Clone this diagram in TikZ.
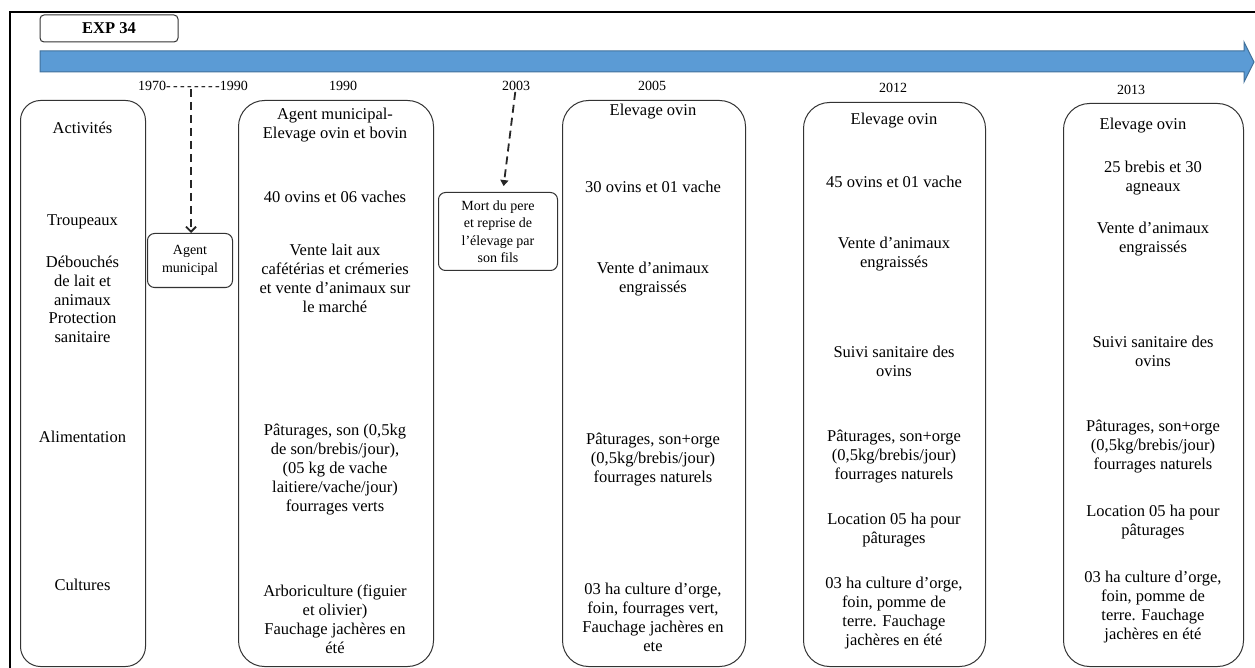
\documentclass[tikz,border=0pt]{standalone}
\usepackage{fontspec}
\setmainfont{Liberation Serif}
\usetikzlibrary{arrows.meta,positioning}
\definecolor{FrBleu}{HTML}{5B9BD5}
\definecolor{FrBord}{HTML}{41719C}
\definecolor{FrTrait}{HTML}{333333}

\begin{document}
\begin{tikzpicture}[x=1pt,y=-1pt,
  periode/.style={draw=FrTrait,line width=1pt,rounded corners=26pt,anchor=north west,inner sep=0pt},
  evt/.style={draw=FrTrait,line width=1pt,rounded corners=7pt,anchor=north west,inner sep=0pt},
  txt/.style={align=center,font=\fontsize{16.5}{19}\selectfont,inner sep=0pt},
  ptxt/.style={align=center,font=\fontsize{14}{17.5}\selectfont,inner sep=0pt},
  annee/.style={font=\fontsize{14}{17}\selectfont,inner sep=1pt},
  pointille/.style={dash pattern=on 8pt off 5pt,line width=1.8pt,black!85}]
  \useasboundingbox (0,0) rectangle (1255,668);
  % cadre et titre
  \draw[line width=1.6pt] (10,668) -- (10,12) -- (1255,12);
  \node[draw=FrTrait,line width=1pt,rounded corners=4pt,minimum width=138pt,minimum height=27pt,
    font=\fontsize{16.5}{18}\selectfont\bfseries] (exp) at (109,28.5) {EXP 34};
  % fleche du temps
  \draw[fill=FrBleu,draw=FrBord,line width=1pt] (40,51) -- (1244,51) -- (1244,42) -- (1254,62)
    -- (1244,82) -- (1244,72) -- (40,72) -- cycle;

  % annees
  \node[annee] (a1970) at (193,86) {1970-\,-\,-\,-\,-\,-\,-\,-1990};
  \node[annee] (a1990) at (343,86) {1990};
  \node[annee] (a2003) at (516,86) {2003};
  \node[annee] (a2005) at (652,86) {2005};
  \node[annee] (a2012) at (893,88) {2012};
  \node[annee] (a2013) at (1131,90) {2013};

  % colonne des activites
  \node[periode,rounded corners=20pt,minimum width=125pt,minimum height=566pt] (act) at (20,100) {};
  \node[txt] (l1) at (82.5,128) {Activités};
  \node[txt] (l2) at (82.5,222) {Troupeaux};
  \node[txt] (l3) at (82.5,281) {Débouchés\\de lait et\\animaux};
  \node[txt] (l4) at (82.5,328) {Protection\\sanitaire};
  \node[txt] (l5) at (82.5,437) {Alimentation};
  \node[txt] (l6) at (82.5,585) {Cultures};

  % evenements
  \node[evt,minimum width=85pt,minimum height=54pt] (agent) at (147,233) {};
  \node[ptxt] (agentt) at (agent.center) {Agent\\municipal};
  \node[evt,minimum width=119pt,minimum height=78pt] (mort) at (438,192) {};
  \node[ptxt] (mortt) at (mort.center) {Mort du pere\\et reprise de\\l'élevage par\\son fils};
  \coordinate (c1970) at (191,89);
  \draw[pointille,-{Straight Barb[length=5pt,width=10pt]}] (c1970) -- (c1970 |- agent.north);
  \draw[pointille,-{Triangle[length=6pt,width=8pt]},shorten >=6pt] (a2003) -- (mort);

  % 1990
  \node[periode,minimum width=195pt,minimum height=566pt] (p1990) at (238,100) {};
  \node[txt] (b1) at (335,125) {Agent municipal-\\Elevage ovin et bovin};
  \node[txt] (b2) at (335,197) {40 ovins et 06 vaches};
  \node[txt] (b3) at (335,278) {Vente lait aux\\cafétérias et crémeries\\et vente d'animaux sur\\le marché};
  \node[txt] (b4) at (335,470) {Pâturages, son (0,5kg\\de son/brebis/jour),\\(05 kg de vache\\laitiere/vache/jour)\\fourrages verts};
  \node[txt] (b5) at (335,619) {Arboriculture (figuier\\et olivier)\\Fauchage jachères en\\été};

  % 2005
  \node[periode,minimum width=183pt,minimum height=566pt] (p2005) at (562,100) {};
  \node[txt] (c1) at (653,112) {Elevage ovin};
  \node[txt] (c2) at (653,187) {30 ovins et 01 vache};
  \node[txt] (c3) at (653,279) {Vente d'animaux\\engraissés};
  \node[txt] (c4) at (653,460) {Pâturages, son+orge\\(0,5kg/brebis/jour)\\fourrages naturels};
  \node[txt] (c5) at (653,617) {03 ha culture d'orge,\\foin, fourrages vert,\\Fauchage jachères en\\ete};

  % 2012
  \node[periode,minimum width=182pt,minimum height=564pt] (p2012) at (803,102) {};
  \node[txt] (d1) at (894,121) {Elevage ovin};
  \node[txt] (d2) at (894,182) {45 ovins et 01 vache};
  \node[txt] (d3) at (894,254) {Vente d'animaux\\engraissés};
  \node[txt] (d4) at (894,361) {Suivi sanitaire des\\ovins};
  \node[txt] (d5) at (894,457) {Pâturages, son+orge\\(0,5kg/brebis/jour)\\fourrages naturels};
  \node[txt] (d6) at (894,530) {Location 05 ha pour\\pâturages};
  \node[txt] (d7) at (894,613) {03 ha culture d'orge,\\foin, pomme de\\terre. Fauchage\\jachères en été};

  % 2013
  \node[periode,minimum width=180pt,minimum height=563pt] (p2013) at (1063,103) {};
  \node[txt] (e1) at (1143,126) {Elevage ovin};
  \node[txt] (e2) at (1153,178) {25 brebis et 30\\agneaux};
  \node[txt] (e3) at (1153,239) {Vente d'animaux\\engraissés};
  \node[txt] (e4) at (1153,351) {Suivi sanitaire des\\ovins};
  \node[txt] (e5) at (1153,447) {Pâturages, son+orge\\(0,5kg/brebis/jour)\\fourrages naturels};
  \node[txt] (e6) at (1153,522) {Location 05 ha pour\\pâturages};
  \node[txt] (e7) at (1153,607) {03 ha culture d'orge,\\foin, pomme de\\terre. Fauchage\\jachères en été};
\end{tikzpicture}
\end{document}
